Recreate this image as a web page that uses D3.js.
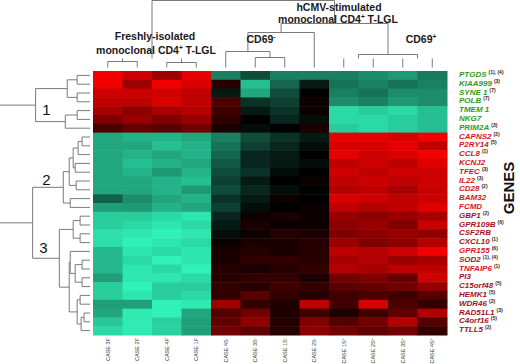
<!DOCTYPE html>
<html><head><meta charset="utf-8">
<script src="https://cdn.jsdelivr.net/npm/d3@7"></script>
<style>body{margin:0;background:#fff;} svg{display:block;font-family:"Liberation Sans",Arial,sans-serif;}</style>
</head><body><svg id="c" width="520" height="364"></svg>
<script>
const columns = ["CASE 3F","CASE 2F","CASE 4F","CASE 1F","CASE 4S-","CASE 3S-","CASE 1S-","CASE 2S-","CASE 1S+","CASE 2S+","CASE 3S+","CASE 4S+"];
const genes = ["PTGDS","KIAA999","SYNE 1","POLB","TMEM 1","NKG7","PRIM2A","CAPNS2","P2RY14","CCL8","KCNJ2","TFEC","IL22","CD28","BAM32","FCMD","GBP1","GPR109B","CSF2RB","CXCL10","GPR155","SOD2","TNFAIP6","PI3","C15orf48","HEMK1","WDR46","RAD51L1","C4orf16","TTLL5"];
const geneNotes = ["(1), (4)","(3)","(7)","(7)","","","(3)","(3)","(5)","(1)","","(3)","(3)","(2)","","","(2)","(6)","","(1)","(6)","(1), (4)","(1)","","(5)","(5)","(2)","(3)","(5)","(2)"];
const geneTone = ["g","g","g","g","g","g","g","r","r","r","r","r","r","r","r","r","d","d","d","d","r","d","r","d","d","d","d","d","d","d"];
// expression (log-ratio, -1 green .. 0 black .. +1 red), rows follow genes, columns follow columns
const values = [
 [ 0.95, 0.80, 0.62, 0.90, -0.50,-0.30,-0.50,-0.50, -0.50,-0.55,-0.60,-0.48],
 [ 0.95, 0.62, 0.95, 0.85,  0.15,-0.75,-0.40,-0.10, -0.45,-0.50,-0.45,-0.50],
 [ 0.80, 0.80, 0.82, 0.75, -0.10,-0.65,-0.30, 0.00, -0.50,-0.45,-0.55,-0.55],
 [ 0.75, 0.75, 0.85, 0.75,  0.30,-0.20,-0.25, 0.05, -0.55,-0.50,-0.60,-0.55],
 [ 0.65, 0.55, 0.65, 0.70,  0.25,-0.10,-0.20, 0.05, -0.85,-0.80,-0.85,-0.75],
 [ 0.50, 0.60, 0.50, 0.60,  0.20, 0.00,-0.15,-0.05, -0.85,-0.85,-0.80,-0.75],
 [ 0.30, 0.40, 0.35, 0.45,  0.10,-0.05, 0.00, 0.10, -0.80,-0.85,-0.80,-0.75],
 [-0.65,-0.70,-0.70,-0.65, -0.50,-0.30,-0.20,-0.10,  0.90, 0.90, 0.85, 0.95],
 [-0.65,-0.65,-0.75,-0.70, -0.45,-0.25,-0.15,-0.05,  0.85, 0.85, 0.90, 0.75],
 [-0.65,-0.70,-0.65,-0.70, -0.40,-0.15,-0.10, 0.00,  0.90, 0.80, 0.85, 0.95],
 [-0.65,-0.75,-0.70,-0.65, -0.35,-0.15,-0.10,-0.05,  0.75, 0.80, 0.75, 0.88],
 [-0.65,-0.70,-0.60,-0.70, -0.30,-0.20,-0.05, 0.00,  0.80, 0.75, 0.80, 0.80],
 [-0.65,-0.65,-0.70,-0.75, -0.25,-0.10, 0.00, 0.05,  0.75, 0.80, 0.75, 0.80],
 [-0.65,-0.65,-0.70,-0.60, -0.30,-0.15,-0.05, 0.00,  0.70, 0.75, 0.65, 0.78],
 [-0.38,-0.55,-0.65,-0.70, -0.20,-0.10, 0.05, 0.00,  0.85, 0.80, 0.75, 0.80],
 [-0.62,-0.60,-0.70,-0.65, -0.25,-0.05, 0.00, 0.05,  0.75, 0.70, 0.75, 0.88],
 [-0.80,-0.80,-0.85,-0.90, -0.15, 0.05, 0.10, 0.05,  0.60, 0.55, 0.60, 0.65],
 [-0.80,-0.85,-0.90,-0.85, -0.10, 0.10, 0.05, 0.05,  0.55, 0.60, 0.50, 0.78],
 [-0.87,-0.90,-0.95,-0.90, -0.05, 0.05, 0.15, 0.10,  0.50, 0.55, 0.60, 0.57],
 [-0.87,-0.95,-0.90,-0.85,  0.05, 0.10, 0.10, 0.15,  0.60, 0.50, 0.55, 0.70],
 [-0.72,-0.90,-0.85,-0.90,  0.10, 0.15, 0.10, 0.15,  0.75, 0.70, 0.80, 0.95],
 [-0.72,-0.85,-0.95,-0.90,  0.10, 0.20, 0.20, 0.15,  0.65, 0.70, 0.60, 0.65],
 [-0.72,-0.90,-0.85,-0.95,  0.15, 0.10, 0.15, 0.20,  0.70, 0.65, 0.75, 0.75],
 [-0.62,-0.90,-0.90,-0.85,  0.15, 0.20, 0.20, 0.10,  0.45, 0.50, 0.40, 0.82],
 [-0.80,-0.95,-0.80,-0.80,  0.20, 0.15, 0.25, 0.20,  0.35, 0.40, 0.45, 0.57],
 [-0.80,-0.90,-0.80,-0.85,  0.20, 0.35, 0.20, 0.15,  0.25, 0.30, 0.25, 0.32],
 [-0.62,-0.62,-0.95,-0.92,  0.62, 0.20, 0.12, 0.75,  0.25, 0.85, 0.30, 0.20],
 [-0.65,-0.92,-0.95,-0.65,  0.32, 0.45, 0.12, 0.25,  0.12, 0.25, 0.38, 0.70],
 [-0.78,-0.92,-0.82,-0.62,  0.38, 0.56, 0.15, 0.50,  0.32, 0.45, 0.70, 0.32],
 [-0.85,-0.92,-0.82,-0.62,  0.45, 0.38, 0.15, 0.56,  0.45, 0.38, 0.45, 0.20]
];
// column dendrogram: merge heights, leaves are column indices
const colTree = {h:67, c:[
  {h:9, hide:true, c:[{h:6, c:[0,1]}, {h:5, c:[2,3]}]},
  {h:44, c:[
    {h:35, c:[{h:16, c:[4, {h:10, c:[5,6]}]}, 7]},
    {h:13, c:[{h:9, hide:true, c:[8,9]}, {h:9, hide:true, c:[10,11]}]}
  ]}
]};
// row dendrogram: merge heights, leaves are row indices
const rowTree = {h:100, c:[
  {h:55, c:[
    {h:23, c:[{h:13, c:[0,1]}, {h:13, c:[2,3]}]},
    {h:25, c:[{h:13, c:[4,5]}, 6]}
  ]},
  {h:58, c:[
    {h:27, c:[
      {h:21, c:[
        {h:17, c:[{h:12, c:[{h:8, c:[7,8]}, 9]}, {h:15, c:[10,11]}]},
        {h:14, c:[12,13]}
      ]},
      {h:20, c:[14,15]}
    ]},
    {h:31, c:[
      {h:17, c:[{h:10, c:[16,17]}, {h:10, c:[18,19]}]},
      {h:21, c:[
        {h:20, c:[20, {h:15, c:[{h:8, c:[21,22]}, {h:8, c:[23,24]}]}]},
        {h:13, c:[{h:10, c:[25,26]}, {h:9, c:[{h:6, c:[27,28]}, 29]}]}
      ]}
    ]}
  ]}
]};
const clusterLabels = [{t:"1", row:4.4, h:44},{t:"2", row:12.4, h:44},{t:"3", row:20.1, h:47}];

const svg = d3.select("#c");
const x = d3.scaleBand().domain(d3.range(columns.length)).range([93, 447]);
const y = d3.scaleBand().domain(d3.range(genes.length)).range([71, 335]);
const color = d3.scaleLinear().domain([-1,0,1]).range(["#33ffc2","#000000","#ff0000"]).clamp(true);
const colH = d3.scaleLinear().domain([0,67]).range([67.5,0.5]);
const rowH = d3.scaleLinear().domain([0,91]).range([90,0]);

// heatmap
const cells = [];
values.forEach((r,i)=>r.forEach((v,j)=>cells.push({i,j,v})));
svg.append("g").selectAll("rect").data(cells).join("rect")
  .attr("x",d=>x(d.j)).attr("y",d=>y(d.i))
  .attr("width",x.bandwidth()+0.5).attr("height",y.bandwidth()+0.5)
  .attr("fill",d=>color(d.v));

// dendrograms
function build(node, leafPos, segs){
  if (typeof node === "number") return {p: leafPos(node), h: 0};
  const ch = node.c.map(n=>build(n, leafPos, segs));
  ch.forEach(c=>segs.push({a:[c.p,c.h],b:[c.p,node.h]}));
  if (!node.hide) segs.push({a:[ch[0].p,node.h],b:[ch[1].p,node.h]});
  const p = (ch[0].p+ch[1].p)/2;
  return {p, h: node.h};
}
const colSegs=[]; build(colTree, j=>x(j)+x.bandwidth()/2, colSegs);
svg.append("g").attr("stroke","#7a7a7a").attr("stroke-width",1).selectAll("line").data(colSegs).join("line")
  .attr("x1",d=>d.a[0]).attr("x2",d=>d.b[0]).attr("y1",d=>colH(d.a[1])).attr("y2",d=>colH(d.b[1]));
const rowSegs=[]; build(rowTree, i=>y(i)+y.bandwidth()/2, rowSegs);
svg.append("g").attr("stroke","#7a7a7a").attr("stroke-width",1).selectAll("line").data(rowSegs).join("line")
  .attr("y1",d=>d.a[0]).attr("y2",d=>d.b[0]).attr("x1",d=>rowH(d.a[1])).attr("x2",d=>rowH(d.b[1]));

svg.append("g").selectAll("text").data(clusterLabels).join("text")
  .attr("x",d=>rowH(d.h)).attr("y",d=>y(0)+d.row*y.step()+5)
  .attr("text-anchor","middle").attr("font-size",15).attr("fill","#111").text(d=>d.t);

// gene labels
const toneCol = {g:"#2f9a22", r:"#d41620", d:"#a3121c"};
const gl = svg.append("g").selectAll("text").data(genes).join("text")
  .attr("x",459).attr("y",(d,i)=>y(i)+y.bandwidth()/2+1.5)
  .attr("font-size",8).attr("font-weight","bold");
gl.append("tspan").attr("font-style","italic").attr("fill",(d,i)=>toneCol[geneTone[i]]).text(d=>d);
gl.append("tspan").attr("font-size",5).attr("dx",2).attr("dy",-3).attr("fill","#3a2020").text((d,i)=>geneNotes[i]);

svg.append("text").attr("transform","translate(514,188) rotate(-90)").attr("text-anchor","middle")
  .attr("font-size",15).attr("font-weight","bold").attr("fill","#111").text("GENES");

// column labels
const cl = svg.append("g").selectAll("text").data(columns).join("text")
  .attr("transform",(d,j)=>`translate(${x(j)+x.bandwidth()/2+2},338) rotate(-90)`)
  .attr("text-anchor","end").attr("font-size",5.5).attr("fill","#3a3a3a");
cl.append("tspan").text(d=>d.replace(/[+-]$/,""));
cl.append("tspan").attr("font-size",4).attr("dy",-2).text(d=>/[+-]$/.test(d)? (d.endsWith("+")?"+":"-") : "");

// header texts
const hdr = svg.append("g").attr("font-weight","bold").attr("font-size",10.5).attr("fill","#1a1a1a").attr("text-anchor","middle");
hdr.append("text").attr("x",155).attr("y",40).text("Freshly-isolated");
const t2 = hdr.append("text").attr("x",156).attr("y",54);
t2.append("tspan").text("monoclonal CD4");
t2.append("tspan").attr("font-size",6.5).attr("dy",-4).text("+");
t2.append("tspan").attr("dy",4).text(" T-LGL");
hdr.append("text").attr("x",339).attr("y",11).text("hCMV-stimulated");
const t3 = hdr.append("text").attr("x",338).attr("y",23);
t3.append("tspan").text("monoclonal CD4");
t3.append("tspan").attr("font-size",6.5).attr("dy",-4).text("+");
t3.append("tspan").attr("dy",4).text(" T-LGL");
const t4 = hdr.append("text").attr("x",261).attr("y",43);
t4.append("tspan").text("CD69");
t4.append("tspan").attr("font-size",6.5).attr("dy",-4).text("-");
const t5 = hdr.append("text").attr("x",421).attr("y",43);
t5.append("tspan").text("CD69");
t5.append("tspan").attr("font-size",6.5).attr("dy",-4).text("+");
</script></body></html>
